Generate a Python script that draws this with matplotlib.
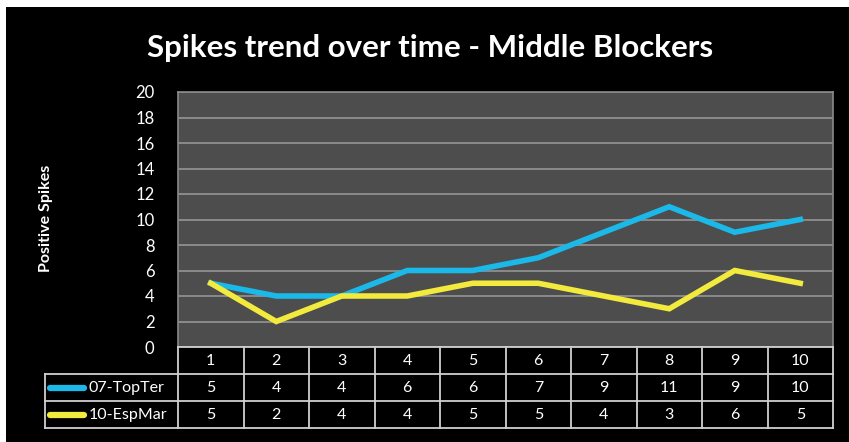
#!/usr/bin/env python3

import matplotlib.pyplot as plt
from matplotlib.patches import Rectangle

matches = ['1', '2', '3', '4', '5', '6', '7', '8', '9', '10']
series_names = ['07-TopTer', '10-EspMar']
top_ter = [5, 4, 4, 6, 6, 7, 9, 11, 9, 10]
esp_mar = [5, 2, 4, 4, 5, 5, 4, 3, 6, 5]
series_colors = ['#1ab9ea', '#f2ea3c']
y_ticks = [0, 2, 4, 6, 8, 10, 12, 14, 16, 18, 20]

W, H = 849, 442
FONT = ['Lato', 'DejaVu Sans']
plt.rcParams['font.family'] = FONT


def fx(px):
    return px / W


def fy(py):
    return 1 - py / H


fig = plt.figure(figsize=(W / 100, H / 100), dpi=100, facecolor='white')
fig.patches.append(Rectangle((fx(6), 0), 1 - fx(6), fy(7), transform=fig.transFigure,
                             facecolor='black', edgecolor='none', zorder=-5))

fig.text(fx(430), fy(48), 'Spikes trend over time - Middle Blockers', ha='center', va='center',
         color='white', fontsize=22.5, fontweight='bold')

# main plot area
left, right, top, bottom = 178, 833, 92, 347
ax = fig.add_axes([fx(left), fy(bottom), fx(right - left), fy(top) - fy(bottom)])
ax.set_facecolor('#4d4d4d')
ax.set_xlim(0, len(matches))
ax.set_ylim(0, 20)
ax.set_yticks(y_ticks)
ax.set_xticks([])
ax.tick_params(axis='y', length=0, pad=17, labelcolor='white', labelsize=12)
ax.grid(axis='y', color='#8a8a8a', linewidth=1.4)
ax.set_axisbelow(True)
for s in ax.spines.values():
    s.set_color('#8a8a8a')
    s.set_linewidth(1.2)
ax.spines['bottom'].set_visible(False)

xs = [i + 0.5 for i in range(len(matches))]
for vals, col in zip([top_ter, esp_mar], series_colors):
    ax.plot(xs, vals, color=col, linewidth=4, solid_joinstyle='miter', zorder=3)

fig.text(fx(46), fy(218), 'Positive Spikes', rotation=90, ha='center', va='center',
         color='white', fontsize=11.5, fontweight='bold')

# data table below
tb_left, tb_bottom = 45, 428
col_w = (right - left) / len(matches)
lab_w = (left - tb_left) / col_w
tax = fig.add_axes([fx(tb_left), fy(tb_bottom), fx(right - tb_left), fy(bottom) - fy(tb_bottom)])
tax.set_xlim(-lab_w, len(matches))
tax.set_ylim(3, 0)
tax.axis('off')
lc = '#d0d0d0'
lw = 1.3
n = len(matches)
for r in range(4):
    x0 = 0 if r == 0 else -lab_w
    tax.plot([x0, n], [r, r], color=lc, lw=lw, clip_on=False)
for c in range(n + 1):
    tax.plot([c, c], [0, 3], color=lc, lw=lw, clip_on=False)
tax.plot([-lab_w, -lab_w], [1, 3], color=lc, lw=lw, clip_on=False)

fs = 11.5
for i, m in enumerate(matches):
    tax.text(i + 0.5, 0.52, m, ha='center', va='center', color='white', fontsize=fs)
for r, (name, vals, col) in enumerate(zip(series_names, [top_ter, esp_mar], series_colors), start=1):
    tax.plot([-lab_w + 0.08, -lab_w + 0.6], [r + 0.5, r + 0.5], color=col, lw=4.5,
             solid_capstyle='round', clip_on=False)
    tax.text(-lab_w + 0.66, r + 0.52, name, ha='left', va='center', color='white', fontsize=fs)
    for i, v in enumerate(vals):
        tax.text(i + 0.5, r + 0.52, str(v), ha='center', va='center', color='white', fontsize=fs)

fig.savefig('out.png', dpi=100, facecolor='white')
